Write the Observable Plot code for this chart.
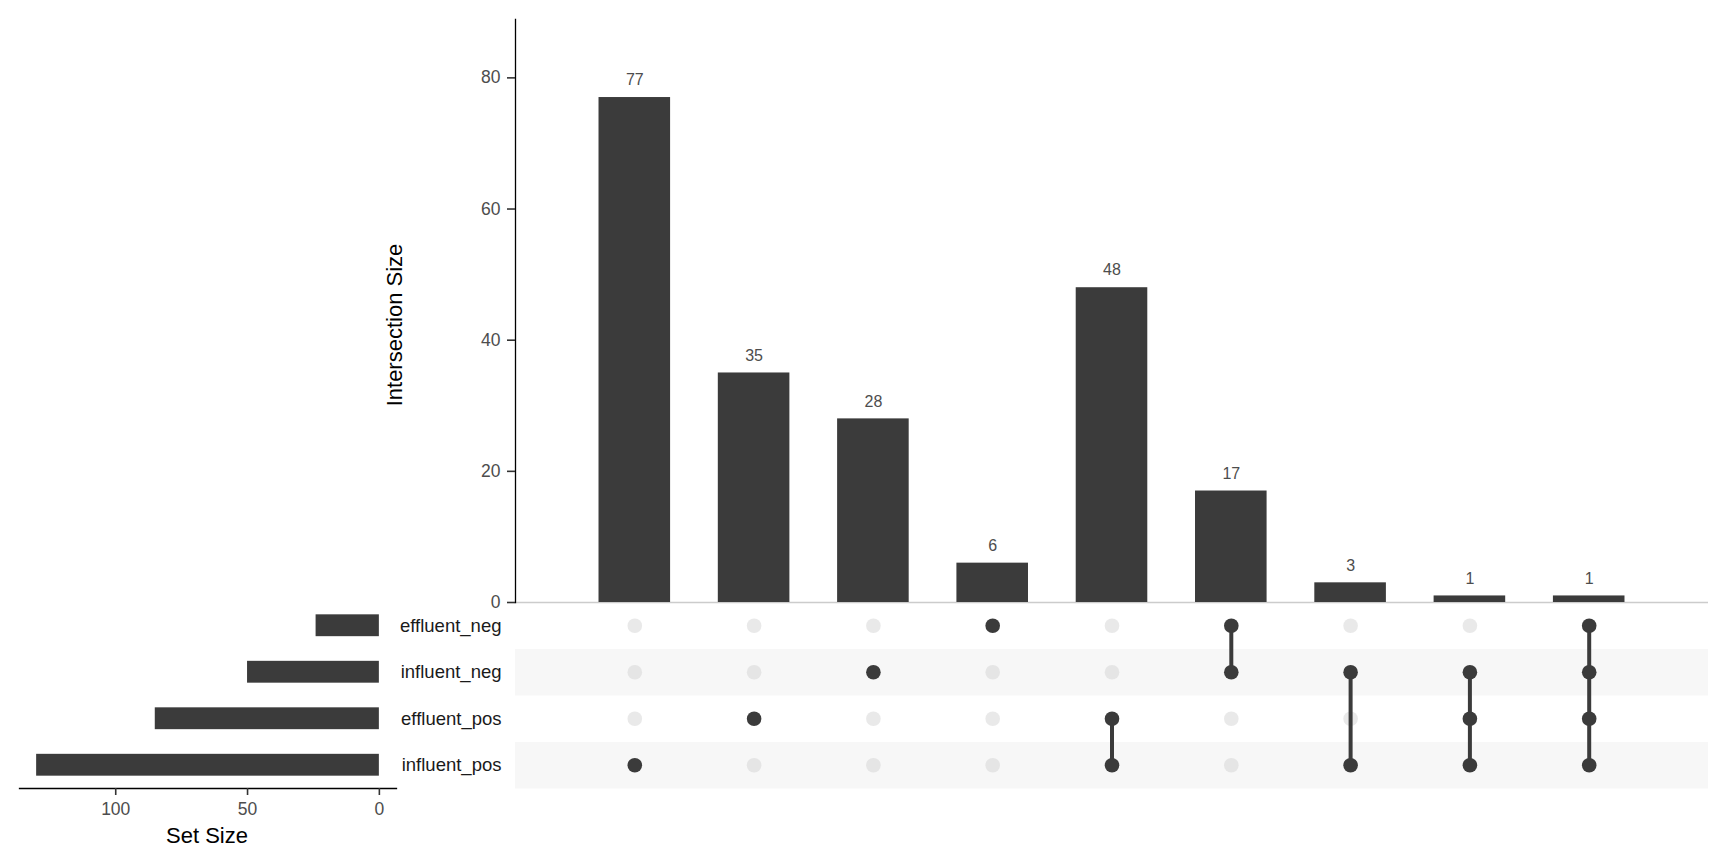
<!DOCTYPE html>
<html>
<head>
<meta charset="utf-8">
<script src="https://cdn.jsdelivr.net/npm/d3@7"></script>
<script src="https://cdn.jsdelivr.net/npm/@observablehq/plot@0.6"></script>
<style>
  html, body { margin: 0; padding: 0; background: #fff; overflow: hidden; }
  #wrap { position: relative; width: 1728px; height: 865px; font-family: "Liberation Sans", Arial, sans-serif; }
  .layer { position: absolute; }
  .title { position: absolute; white-space: nowrap; font-size: 22px; line-height: 1; color: #000; }
</style>
</head>
<body>
<div id="wrap">
  <div id="matrix" class="layer" style="left:0;top:602px"></div>
  <div id="sets" class="layer" style="left:0;top:602px"></div>
  <div id="main" class="layer" style="left:0;top:0"></div>
  <div class="title" style="left:395px;top:325px;transform:translate(-50%,-50%) rotate(-90deg);">Intersection Size</div>
  <div class="title" style="left:207px;top:825px;transform:translateX(-50%);">Set Size</div>
</div>
<script>
// ---- data ----
const setNames = ["effluent_neg", "influent_neg", "effluent_pos", "influent_pos"];
const setSizes = [24, 50, 85, 130];
const intersectionIds = ["i1", "i2", "i3", "i4", "i5", "i6", "i7", "i8", "i9"];
const intersectionSizes = [77, 35, 28, 6, 48, 17, 3, 1, 1];
const intersectionMembers = [
  ["influent_pos"],
  ["effluent_pos"],
  ["influent_neg"],
  ["effluent_neg"],
  ["effluent_pos", "influent_pos"],
  ["effluent_neg", "influent_neg"],
  ["influent_neg", "influent_pos"],
  ["influent_neg", "effluent_pos", "influent_pos"],
  ["effluent_neg", "influent_neg", "effluent_pos", "influent_pos"]
];
const intersectionTicks = [0, 20, 40, 60, 80];
const setSizeTicks = [0, 50, 100];

// ---- derived tables ----
const FONT = '"Liberation Sans", Arial, sans-serif';
const DARK = "#3B3B3B";
const inter = intersectionIds.map((id, i) => {
  const idx = intersectionMembers[i].map(s => setNames.indexOf(s));
  return {
    id, size: intersectionSizes[i], members: intersectionMembers[i],
    top: setNames[d3.min(idx)], bottom: setNames[d3.max(idx)]
  };
});
const cells = [];
inter.forEach(d => setNames.forEach(s => cells.push({id: d.id, set: s, active: d.members.includes(s)})));
const sets = setNames.map((name, i) => ({name, size: setSizes[i]}));
const shaded = setNames.filter((s, i) => i % 2 === 1);

const xBand = {type: "band", domain: intersectionIds, paddingInner: 0.4, paddingOuter: 0.7, round: false, axis: null};

// ---- main intersection bar chart ----
const main = Plot.plot({
  width: 1728, height: 625,
  marginLeft: 515, marginRight: 20, marginTop: 19, marginBottom: 23,
  style: {background: "transparent", fontFamily: FONT, fontSize: "17.5px", overflow: "visible"},
  x: xBand,
  y: {domain: [0, 88.9], label: null},
  marks: [
    Plot.ruleY([0], {stroke: "#CCCCCC", strokeWidth: 1.3}),
    Plot.barY(inter, {x: "id", y: "size", fill: DARK}),
    Plot.text(inter, {x: "id", y: "size", text: d => String(d.size), dy: -12.3, lineAnchor: "bottom", fill: "#4D4D4D", fontSize: 16}),
    Plot.frame({anchor: "left", stroke: "#000", strokeWidth: 1.3}),
    Plot.axisY({ticks: intersectionTicks, tickSize: 8, tickPadding: 7, stroke: "#333", strokeWidth: 1.6, fill: "#4D4D4D", fontSize: 17.5, label: null})
  ]
});
document.getElementById("main").appendChild(main);

// ---- matrix ----
const matrix = Plot.plot({
  width: 1728, height: 186,
  marginLeft: 515, marginRight: 20, marginTop: 0, marginBottom: 0,
  style: {background: "transparent", fontFamily: FONT, fontSize: "18.5px", overflow: "visible"},
  x: xBand,
  y: {type: "point", domain: setNames, padding: 0.5, round: false, label: null},
  marks: [
    Plot.ruleY(shaded, {y: d => d, stroke: "#F7F7F7", strokeWidth: 46.5}),
    Plot.dot(cells.filter(c => !c.active), {x: "id", y: "set", r: 7.3, fill: "#D4D4D4", fillOpacity: 0.5, stroke: null}),
    Plot.ruleX(inter.filter(d => d.members.length > 1), {x: "id", y1: "top", y2: "bottom", stroke: DARK, strokeWidth: 4}),
    Plot.dot(cells.filter(c => c.active), {x: "id", y: "set", r: 7.3, fill: DARK, stroke: null}),
    Plot.axisY({tickSize: 0, tickPadding: 14, fill: "#1A1A1A", fontSize: 18.5, label: null})
  ]
});
document.getElementById("matrix").appendChild(matrix);

// ---- set size bars ----
const setPlot = Plot.plot({
  width: 400, height: 263,
  marginLeft: 19, marginRight: 4, marginTop: 0, marginBottom: 77,
  style: {background: "transparent", fontFamily: FONT, fontSize: "17.5px", overflow: "visible"},
  x: {domain: [-6.5, 136.5], reverse: true, label: null},
  y: {type: "band", domain: setNames, paddingInner: 0.53, paddingOuter: 0.265, round: false, axis: null},
  marks: [
    Plot.barX(sets, {y: "name", x: "size", fill: DARK}),
    Plot.frame({anchor: "bottom", stroke: "#000", strokeWidth: 1.3}),
    Plot.axisX({ticks: setSizeTicks, tickSize: 7, tickPadding: 7, stroke: "#333", strokeWidth: 1.6, fill: "#4D4D4D", fontSize: 17.5, label: null})
  ]
});
document.getElementById("sets").appendChild(setPlot);
</script>
</body>
</html>
